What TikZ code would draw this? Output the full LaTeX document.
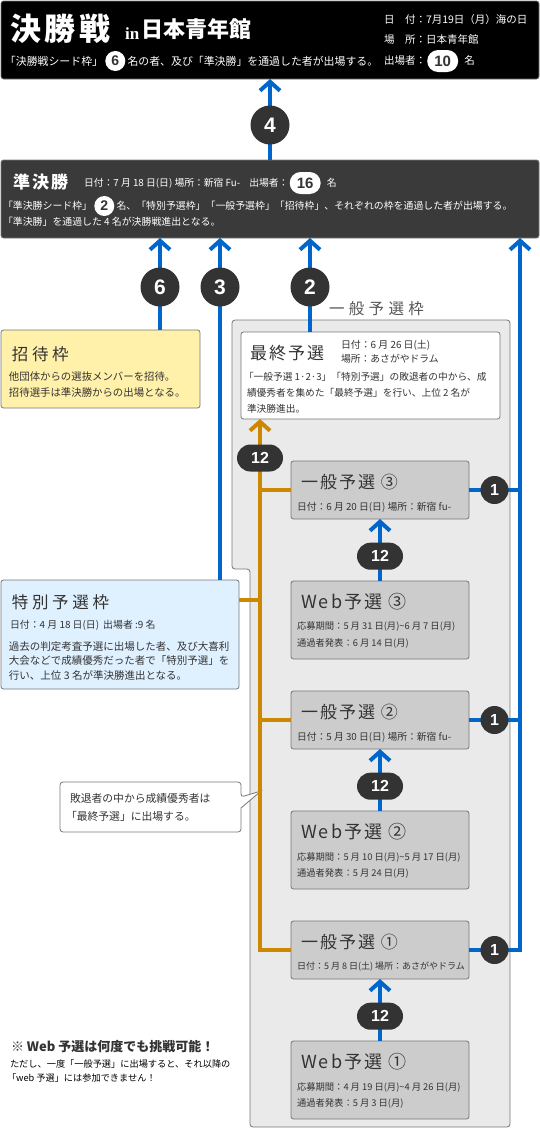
\documentclass[tikz,border=0pt]{standalone}
\usepackage{fontspec}
\setmainfont{Noto Sans CJK JP}
\newfontfamily\jls[LetterSpace=12]{Noto Sans CJK JP}
\newfontfamily\jlsw[LetterSpace=22]{Noto Sans CJK JP}
\newfontfamily\jlsx[LetterSpace=28]{Noto Sans CJK JP}
\newfontfamily\numf{Liberation Sans}
\newfontfamily\serf{Liberation Serif}
\usetikzlibrary{arrows.meta,positioning,calc}
\newcommand\fsz[1]{\fontsize{#1pt}{#1pt}\selectfont}
\definecolor{cblue}{HTML}{0066CC}
\definecolor{corange}{HTML}{CC8800}
\definecolor{cdark}{HTML}{333333}
\definecolor{csemi}{HTML}{3A3A3A}
\definecolor{cframe}{HTML}{EAEAEA}
\definecolor{cgbox}{HTML}{CCCCCC}
\definecolor{cborder}{HTML}{777777}
\definecolor{cyellow}{HTML}{FFF0AA}
\definecolor{clblue}{HTML}{DFF0FF}
\definecolor{clabel}{HTML}{555555}
\begin{document}
\begin{tikzpicture}[x=1pt,y=-1pt,
  box/.style={draw=cborder, line width=0.8pt, rounded corners=2.5pt, anchor=north west, inner sep=0pt, outer sep=0pt},
  gbox/.style={box, fill=cgbox, minimum width=178pt},
  txt/.style={anchor=west, inner sep=0pt, outer sep=0pt, text=cdark},
  wtxt/.style={txt, text=white},
  barrow/.style={draw=cblue, line width=4pt, -{Straight Barb[length=9pt,width=20pt]}},
  bline/.style={draw=cblue, line width=4pt},
  oarrow/.style={draw=corange, line width=4pt, -{Straight Barb[length=9pt,width=20pt]}},
  oline/.style={draw=corange, line width=4pt},
  numc/.style={circle, fill=cdark, text=white, minimum size=39pt, inner sep=0pt, font=\numf\bfseries\fsz{21}},
  onec/.style={circle, fill=cdark, text=white, minimum size=28pt, inner sep=0pt, font=\numf\bfseries\fsz{16}},
  pill/.style={rectangle, rounded corners=13.5pt, fill=cdark, text=white, minimum width=46pt, minimum height=27pt, inner sep=0pt, font=\numf\bfseries\fsz{16}},
  wpill/.style={rectangle, rounded corners=11pt, fill=white, text=cdark, minimum width=31pt, minimum height=22pt, inner sep=0pt, font=\numf\bfseries\fsz{15}},
  wcirc/.style={circle, fill=white, text=cdark, minimum size=20pt, inner sep=0pt, font=\numf\bfseries\fsz{14}},
  gtitle/.style={txt, font=\jls\fsz{17}},
  wtitle/.style={txt, font=\jls\fsz{18}},
  gsub/.style={txt, font=\fsz{9.8}},
  wsub/.style={txt, font=\fsz{9.3}}
]
\useasboundingbox (0,0) rectangle (540,1130);

% ---------- top box ----------
\node[box, fill=black, minimum width=538pt, minimum height=78pt] (fin) at (1,1) {};
\node[wtxt, font=\jls\bfseries\fsz{31}] (fintitle) at (10,29) {決勝戦};
\node[anchor=base west, inner sep=0pt, text=white, font=\serf\bfseries\fsz{17}] (finin) at (125,39) {in};
\node[wtxt, font=\bfseries\fsz{22}] (finplace) at (141,29) {日本青年館};
\node[wtxt, font=\fsz{10.9}] (fl1) at (5,61) {「決勝戦シード枠」};
\node[wcirc, right=2pt of fl1] (fc6) {6};
\node[wtxt, font=\fsz{10.9}, right=2pt of fc6] (fl2) {名の者、及び「準決勝」を通過した者が出場する。};
\node[wtxt, font=\fsz{10.5}] (fd1) at (384,20) {日　付：7月19日（月）海の日};
\node[wtxt, font=\fsz{10.5}] (fd2) at (384,40) {場　所：日本青年館};
\node[wtxt, font=\fsz{10.5}] (fd3) at (384,61) {出場者：};
\node[wpill, right=1pt of fd3] (f10) {10};
\node[wtxt, font=\fsz{10.5}, right=6pt of f10] (fd4) {名};

% ---------- semifinal box ----------
\node[box, fill=csemi, minimum width=538pt, minimum height=78pt] (semi) at (1,160) {};
\node[wtxt, font=\jls\bfseries\fsz{17}] (semititle) at (13,182) {準決勝};
\node[wtxt, font=\fsz{9.8}] (si) at (84,183) {日付：7 月 18 日(日) 場所：新宿 Fu-\hspace{9pt}出場者：};
\node[wpill, right=1pt of si] (s16) {16};
\node[wtxt, font=\fsz{9.8}, right=6pt of s16] (sname) {名};
\node[wtxt, font=\fsz{9.9}] (sl1) at (3,206) {「準決勝シード枠」};
\node[wcirc, right=2pt of sl1] (sc2) {2};
\node[wtxt, font=\fsz{9.9}, right=2pt of sc2] (sl2) {名、「特別予選枠」「一般予選枠」「招待枠」、それぞれの枠を通過した者が出場する。};
\node[wtxt, font=\fsz{9.9}] (sl3) at (3,222) {「準決勝」を通過した 4 名が決勝戦進出となる。};

% ---------- invitation box ----------
\node[box, fill=cyellow, minimum width=199pt, minimum height=78pt] (shotai) at (1,330) {};
\node[txt, font=\jlsw\fsz{16.5}] (shtitle) at (12,354) {招待枠};
\node[txt, font=\fsz{10.4}] (sh1) at (9,377) {他団体からの選抜メンバーを招待。};
\node[txt, font=\fsz{10.4}] (sh2) at (9,393) {招待選手は準決勝からの出場となる。};

% ---------- general frame ----------
\draw[fill=cframe, draw=cborder, line width=0.8pt, rounded corners=3pt]
  (232,320) -- (510,320) -- (510,1127) -- (250,1127) -- (250,569) -- (232,569) -- cycle;
\node[txt, text=clabel, font=\jlsx\fsz{15.5}] (ipwaku) at (329,309) {一般予選枠};

% ---------- final qualifying box ----------
\node[box, fill=white, minimum width=259pt, minimum height=87pt] (saishu) at (241,332) {};
\node[txt, font=\jls\fsz{17}] (satitle) at (250,353) {最終予選};
\node[txt, font=\fsz{9.9}] (sad) at (341,345) {日付：6 月 26 日(土)};
\node[txt, font=\fsz{9.8}] (sap) at (341,359) {場所：あさがやドラム};
\node[txt, font=\fsz{9.7}] (sa1) at (244,377) {「一般予選 1·2·3」「特別予選」の敗退者の中から、成};
\node[txt, font=\fsz{9.7}] (sa2) at (247,393) {績優秀者を集めた「最終予選」を行い、上位 2 名が};
\node[txt, font=\fsz{9.7}] (sa3) at (247,409) {準決勝進出。};

% ---------- general / web boxes ----------
\node[gbox, minimum height=58pt] (ip3) at (291,461) {};
\node[gtitle] (ip3t) at (301,482) {一般予選 ③};
\node[gsub] (ip3s) at (297,507) {日付：6 月 20 日(日) 場所：新宿 fu-};

\node[gbox, minimum height=78pt] (web3) at (291,581) {};
\node[wtitle] (web3t) at (301,602) {Web予選 ③};
\node[wsub] (web3a) at (297,626) {応募期間：5 月 31 日(月)\textasciitilde 6 月 7 日(月)};
\node[wsub] (web3b) at (297,643) {通過者発表：6 月 14 日(月)};

\node[gbox, minimum height=58pt] (ip2) at (291,691) {};
\node[gtitle] (ip2t) at (301,712) {一般予選 ②};
\node[gsub] (ip2s) at (297,737) {日付：5 月 30 日(日) 場所：新宿 fu-};

\node[gbox, minimum height=78pt] (web2) at (291,811) {};
\node[wtitle] (web2t) at (301,832) {Web予選 ②};
\node[wsub] (web2a) at (297,857) {応募期間：5 月 10 日(月)\textasciitilde 5 月 17 日(月)};
\node[wsub] (web2b) at (297,873) {通過者発表：5 月 24 日(月)};

\node[gbox, minimum height=58pt] (ip1) at (291,921) {};
\node[gtitle] (ip1t) at (301,942) {一般予選 ①};
\node[gsub, font=\fsz{9}] (ip1s) at (297,967) {日付：5 月 8 日(土) 場所：あさがやドラム};

\node[gbox, minimum height=78pt] (web1) at (291,1041) {};
\node[wtitle] (web1t) at (301,1062) {Web予選 ①};
\node[wsub] (web1a) at (297,1087) {応募期間：4 月 19 日(月)\textasciitilde 4 月 26 日(月)};
\node[wsub] (web1b) at (297,1103) {通過者発表：5 月 3 日(月)};

% ---------- special box ----------
\node[box, fill=clblue, minimum width=238pt, minimum height=109pt] (toku) at (1,580) {};
\node[txt, font=\jlsw\fsz{16.5}] (tktitle) at (12,602) {特別予選枠};
\node[txt, font=\fsz{9.9}] (tksub) at (10,625) {日付：4 月 18 日(日)\hspace{4pt}出場者 :9 名};
\node[txt, font=\fsz{10.5}] (tk1) at (9,647) {過去の判定考査予選に出場した者、及び大喜利};
\node[txt, font=\fsz{10.5}] (tk2) at (9,661) {大会などで成績優秀だった者で「特別予選」を};
\node[txt, font=\fsz{10.5}] (tk3) at (9,675) {行い、上位 3 名が準決勝進出となる。};

% ---------- callout ----------
\draw[fill=white, draw=cborder, line width=0.8pt, rounded corners=3pt]
  (60,782) -- (241,782) -- (241,797) [sharp corners] -- (261,791) -- (241,808) [rounded corners=3pt] -- (241,832) -- (60,832) -- cycle;
\node[txt, font=\fsz{10.8}] (co1) at (70,798) {敗退者の中から成績優秀者は};
\node[txt, font=\fsz{10.8}] (co2) at (66,816) {「最終予選」に出場する。};

% ---------- note ----------
\node[txt, font=\bfseries\fsz{13}] (note1) at (11,1047) {※ Web 予選は何度でも挑戦可能！};
\node[txt, text=black, font=\fsz{9.2}] (note2) at (10,1064) {ただし、一度「一般予選」に出場すると、それ以降の};
\node[txt, text=black, font=\fsz{9.2}] (note3) at (7,1078) {「web 予選」には参加できません！};

% ---------- connectors ----------
\coordinate (p4) at (270,125);
\coordinate (p6) at (160,287);
\coordinate (p3) at (220,287);
\coordinate (p2) at (310,287);
\coordinate (rail) at (520,951);
\coordinate (orail) at (260,951);
\coordinate (po12) at (260,458);
\coordinate (tk) at ($(toku.north east)+(0,20)$);

\draw[barrow] (semi.north -| p4) -- (fin.south -| p4);
\draw[barrow] (shotai.north -| p6) -- (semi.south -| p6);
\draw[barrow] (toku.north -| p3) -- (semi.south -| p3);
\draw[barrow] (saishu.north -| p2) -- (semi.south -| p2);

\draw[barrow] (ip1.east) -| (semi.south -| rail);
\draw[bline] (ip2.east) -- (ip2.east -| rail);
\draw[bline] (ip3.east) -- (ip3.east -| rail);

\draw[oarrow] (ip1.west) -| (saishu.south -| orail);
\draw[oline] (ip2.west) -- (ip2.west -| orail);
\draw[oline] (ip3.west) -- (ip3.west -| orail);
\draw[oline] (tk) -- (tk -| orail);

\draw[barrow] (web3.north) -- (ip3.south);
\draw[barrow] (web2.north) -- (ip2.south);
\draw[barrow] (web1.north) -- (ip1.south);

% ---------- badges ----------
\node[numc] (b4) at (p4) {4};
\node[numc] (b6) at (p6) {6};
\node[numc] (b3) at (p3) {3};
\node[numc] (b2) at (p2) {2};
\node[pill] (o12) at (po12) {12};
\node[pill] (w12c) at ($(web3.north)!0.4!(ip3.south)$) {12};
\node[pill] (w12b) at ($(web2.north)!0.4!(ip2.south)$) {12};
\node[pill] (w12a) at ($(web1.north)!0.4!(ip1.south)$) {12};
\node[onec] (one3) at ($(ip3.east)!0.5!(ip3.east -| rail)$) {1};
\node[onec] (one2) at ($(ip2.east)!0.5!(ip2.east -| rail)$) {1};
\node[onec] (one1) at ($(ip1.east)!0.5!(ip1.east -| rail)$) {1};
\end{tikzpicture}
\end{document}
